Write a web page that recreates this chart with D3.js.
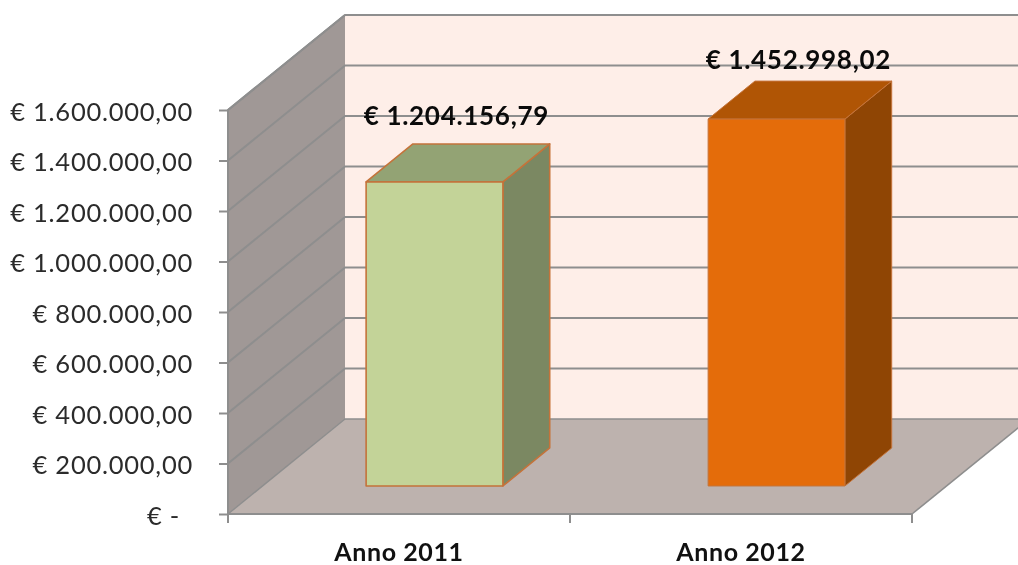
<!DOCTYPE html>
<html><head><meta charset="utf-8">
<script src="https://cdnjs.cloudflare.com/ajax/libs/d3/7.8.5/d3.min.js"></script>
<style>html,body{margin:0;padding:0;background:#fff}svg{display:block;filter:blur(0.55px)}text{font-family:Lato,"Open Sans",sans-serif}</style>
</head><body><svg id="c" width="1018" height="565"></svg>
<script>
const categories=["Anno 2011","Anno 2012"];
const values=[1204156.79,1452998.02];
const valueLabels=["€ 1.204.156,79","€ 1.452.998,02"];
const tickValues=[0,200000,400000,600000,800000,1000000,1200000,1400000,1600000];
const tickLabels=["€ -","€ 200.000,00","€ 400.000,00","€ 600.000,00","€ 800.000,00","€ 1.000.000,00","€ 1.200.000,00","€ 1.400.000,00","€ 1.600.000,00"];
const frontColors=["#c3d398","#e46c0a"];
const topColors=["#93a374","#b05505"];
const sideColors=["#7b8862","#8f4504"];
const strokeColors=["#c4733a","#c4733a"];

const svg=d3.select("#c");
const y=d3.scaleLinear().domain([0,1600000]).range([514,110]);
const x=d3.scaleBand().domain(categories).range([228,912]).paddingInner(0).paddingOuter(0);
const dz=d3.scaleLinear().domain([0,1]).range([0,117]);
const dy=d3.scaleLinear().domain([0,1]).range([0,-95]);
const P=(px,v,z)=>[px+dz(z),y(v)+dy(z)];
const line=d3.line();
const poly=pts=>line(pts)+"Z";
const [x0,x1]=x.range(), yMax=1600000;
const gridColor="#8e8e8e";

svg.append("path").attr("d",poly([P(x0,0,0),P(x0,yMax,0),P(x0,yMax,1),P(x0,0,1)])).attr("fill","#a09896");
svg.append("path").attr("d",poly([P(x0,0,1),P(x0,yMax,1),P(1018-dz(1),yMax,1),P(1018-dz(1),0,1)])).attr("fill","#feeee8");
svg.append("path").attr("d",poly([P(x0,0,0),P(x1,0,0),P(x1,0,1),P(x0,0,1)])).attr("fill","#bdb2ae").attr("stroke","none");

tickValues.forEach(v=>{
  svg.append("path").attr("d",line([P(x0,v,0),P(x0,v,1),P(1018-dz(1),v,1)])).attr("fill","none")
     .attr("stroke",gridColor).attr("stroke-width",v===0?1.4:2).attr("stroke-linejoin","bevel");
});
svg.append("path").attr("d",line([P(x1,0,0),P(x1,0,1)])).attr("fill","none").attr("stroke",gridColor).attr("stroke-width",1.6);
svg.append("path").attr("d",line([P(x0,0,0),P(x0,yMax,0),P(x0,yMax,1)])).attr("fill","none").attr("stroke",gridColor).attr("stroke-width",2);
svg.append("path").attr("d",line([P(x0,0,0),P(x1,0,0)])).attr("fill","none").attr("stroke",gridColor).attr("stroke-width",2);

const yAxis=d3.axisLeft(y).tickValues(tickValues).tickSize(9).tickPadding(26).tickFormat((d,i)=>tickLabels[i]);
const ga=svg.append("g").attr("transform",`translate(${x0},0)`).call(yAxis);
ga.select(".domain").remove();
ga.selectAll(".tick line").attr("stroke",gridColor).attr("stroke-width",2);
ga.selectAll(".tick text").attr("fill","#2b2b2b").style("font-size","25.5px").style("font-family","Lato")
  .style("letter-spacing","0.75px").attr("dy","0.4em").attr("dx",(d,i)=>i===0?-13:0);

const edges=[x0,x0+x.step(),x0+2*x.step()];
svg.selectAll("line.xt").data(edges).join("line").attr("class","xt")
  .attr("x1",d=>d).attr("x2",d=>d).attr("y1",y(0)).attr("y2",y(0)+9).attr("stroke",gridColor).attr("stroke-width",2);
svg.selectAll("text.cat").data(categories).join("text").attr("class","cat")
  .attr("x",d=>x(d)+x.bandwidth()/2).attr("y",561).attr("text-anchor","middle")
  .attr("font-size",25).attr("font-weight",700).attr("fill","#111").style("letter-spacing","0.6px").text(d=>d);

const zFront=0.295, zBack=0.695, barFrac=0.4;
categories.forEach((c,i)=>{
  const w=x.bandwidth()*barFrac, l=x(c)+x.bandwidth()/2-w/2+1, r=l+w, v=values[i];
  const g=svg.append("g").attr("stroke",strokeColors[i]).attr("stroke-width",i===0?1.6:1).attr("stroke-linejoin","round");
  g.append("path").attr("d",poly([P(r,0,zFront),P(r,v,zFront),P(r,v,zBack),P(r,0,zBack)])).attr("fill",sideColors[i]);
  g.append("path").attr("d",poly([P(l,v,zFront),P(l,v,zBack),P(r,v,zBack),P(r,v,zFront)])).attr("fill",topColors[i]);
  g.append("path").attr("d",poly([P(l,0,zFront),P(l,v,zFront),P(r,v,zFront),P(r,0,zFront)])).attr("fill",frontColors[i]);
  const lp=P((l+r)/2,v,zBack);
  svg.append("text").attr("x",lp[0]-25).attr("y",lp[1]-(i===0?19:12)).attr("text-anchor","middle")
     .attr("font-size",26).attr("font-weight",700).attr("fill","#0a0a0a").style("letter-spacing","0.7px").text(valueLabels[i]);
});
</script></body></html>
